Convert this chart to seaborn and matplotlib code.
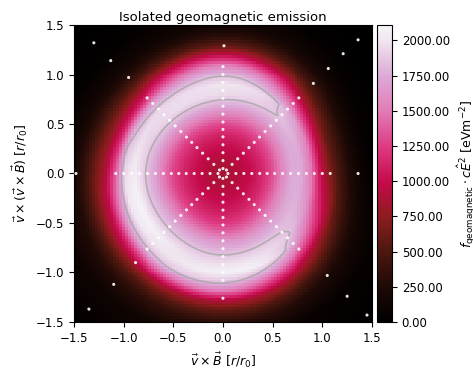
import numpy as np
import pandas as pd
import seaborn as sns
import matplotlib
matplotlib.use("Agg")
import matplotlib.pyplot as plt
from matplotlib.colors import LinearSegmentedColormap

# Data: fluence read along the 8 arms of the star pattern [eV/m^2]
# ==============================================================================
radii = [0.0, 0.1, 0.2, 0.3, 0.4, 0.5, 0.6, 0.7, 0.8, 0.9, 1.0, 1.1, 1.2, 1.3, 1.4, 1.5, 1.7, 2.2]
arm_angles = [0, 45, 90, 135, 180, 225, 270, 315]
fluence_000 = [860, 890, 950, 1030, 1150, 1330, 1580, 1760, 1750, 1500, 1000, 680, 430, 230, 100, 40, 10, 0]
fluence_045 = [860, 890, 950, 1030, 1140, 1300, 1520, 1730, 1845, 1790, 1370, 950, 620, 380, 200, 100, 20, 0]
fluence_090 = [860, 890, 950, 1030, 1130, 1300, 1540, 1770, 1950, 2000, 1820, 1550, 1050, 600, 320, 150, 40, 0]
fluence_135 = [860, 890, 950, 1040, 1140, 1300, 1540, 1780, 1950, 1950, 1700, 1150, 780, 480, 260, 130, 30, 0]
fluence_180 = [860, 890, 950, 1040, 1140, 1280, 1500, 1740, 1880, 2050, 1950, 1350, 900, 650, 400, 200, 60, 0]
fluence_225 = [860, 890, 950, 1030, 1130, 1280, 1500, 1740, 1880, 2050, 2000, 1780, 1250, 800, 520, 320, 120, 0]
fluence_270 = [860, 890, 950, 1020, 1100, 1220, 1420, 1670, 1820, 1950, 2080, 1870, 1500, 900, 580, 350, 100, 0]
fluence_315 = [860, 890, 950, 1030, 1130, 1300, 1510, 1710, 1830, 1880, 1750, 1400, 950, 650, 400, 230, 60, 0]

# Antenna positions [r/r0]
star_radii = [0.05, 0.13, 0.21, 0.29, 0.37, 0.445, 0.52, 0.60, 0.68, 0.76, 0.84, 0.92, 1.00, 1.08]
outer_x = [-1.30, -1.13, -0.95, 0.01, 1.36, 1.21, 1.06, 0.91, 1.36, 1.05, 1.25, 1.45, 0.0, -0.88, -1.10, -1.35, -1.48]
outer_y = [1.32, 1.14, 0.97, 1.29, 1.35, 1.21, 1.06, 0.91, 0.0, -1.03, -1.24, -1.43, -1.26, -0.90, -1.12, -1.37, 0.0]

vmax = 2110
cbar_ticks = [0, 250, 500, 750, 1000, 1250, 1500, 1750, 2000]

# Interpolated footprint (radial then periodic in angle, like the star-shape interpolation)
# ==============================================================================
arms = np.array([fluence_000, fluence_045, fluence_090, fluence_135,
                 fluence_180, fluence_225, fluence_270, fluence_315], dtype=float)

def footprint(n):
    g = np.linspace(-1.5, 1.5, n)
    X, Y = np.meshgrid(g, g)
    r = np.hypot(X, Y)
    phi = np.arctan2(Y, X)
    per_arm = np.array([np.interp(r, radii, a) for a in arms])
    coef = np.fft.rfft(per_arm, axis=0) / len(arm_angles)
    Z = coef[0].real * np.ones_like(r)
    for m in range(1, coef.shape[0]):
        w = 1 if m == len(arm_angles) // 2 else 2
        Z += w * (coef[m] * np.exp(1j * m * phi)).real
    return X, Y, np.clip(Z, 0, None)

_, _, Z_img = footprint(100)
Xc, Yc, Z_cnt = footprint(300)

# Antenna table
ang = np.deg2rad(arm_angles)
ant = pd.DataFrame({
    'x': np.concatenate([np.outer(np.cos(ang), star_radii).ravel(), outer_x]),
    'y': np.concatenate([np.outer(np.sin(ang), star_radii).ravel(), outer_y]),
})

# Colormap
cmap = LinearSegmentedColormap.from_list('geo', [
    (0.0, '#000000'), (0.12, '#1f0a06'), (0.24, '#4d1810'), (0.355, '#8e1c1e'),
    (0.47, '#c40a4a'), (0.59, '#de3a82'), (0.71, '#e27bb6'), (0.83, '#dcaad6'),
    (0.95, '#f0e6f0'), (1.0, '#f7f4f9')])

# Plot
# ==============================================================================
sns.set_style("ticks")
plt.rcParams.update({'font.family': 'DejaVu Sans', 'font.size': 8.5,
                     'text.color': 'black', 'axes.labelcolor': 'black',
                     'xtick.color': 'black', 'ytick.color': 'black',
                     'axes.edgecolor': 'black'})

fig = plt.figure(figsize=(4.73, 3.71), dpi=100)
ax = fig.add_axes([0.1564, 0.1321, 0.630, 0.8005])
cax = fig.add_axes([0.797, 0.1321, 0.0317, 0.8005])

im = ax.imshow(Z_img, origin='lower', extent=[-1.5, 1.5, -1.5, 1.5], cmap=cmap,
               vmin=0, vmax=vmax, interpolation='nearest', aspect='auto')
ax.contour(Xc, Yc, Z_cnt, levels=[1850], colors='#a8a8a8', linewidths=1.2, alpha=0.8)
sns.scatterplot(data=ant, x='x', y='y', color='white', s=5, edgecolor='none',
                alpha=0.9, ax=ax, legend=False, zorder=3)

ax.set_xlim(-1.5, 1.5)
ax.set_ylim(-1.5, 1.5)
ax.set_xticks([-1.5, -1.0, -0.5, 0.0, 0.5, 1.0, 1.5])
ax.set_yticks([-1.5, -1.0, -0.5, 0.0, 0.5, 1.0, 1.5])
ax.tick_params(labelsize=8.5)
ax.set_title('Isolated geomagnetic emission', fontsize=9.5, pad=3)
ax.set_xlabel(r'$\vec{v} \times \vec{B}$ [$r/r_0$]', fontsize=9)
ax.set_ylabel(r'$\vec{v} \times (\vec{v} \times \vec{B})$ [$r/r_0$]', fontsize=9)

cbar = fig.colorbar(im, cax=cax, ticks=cbar_ticks, format='%.2f')
cbar.ax.tick_params(labelsize=8.5)
cbar.set_label(r'$f_\mathrm{geomagnetic} \cdot c\hat{E}^2$ [eVm$^{-2}$]', fontsize=9)

fig.savefig('out.png', dpi=100)
